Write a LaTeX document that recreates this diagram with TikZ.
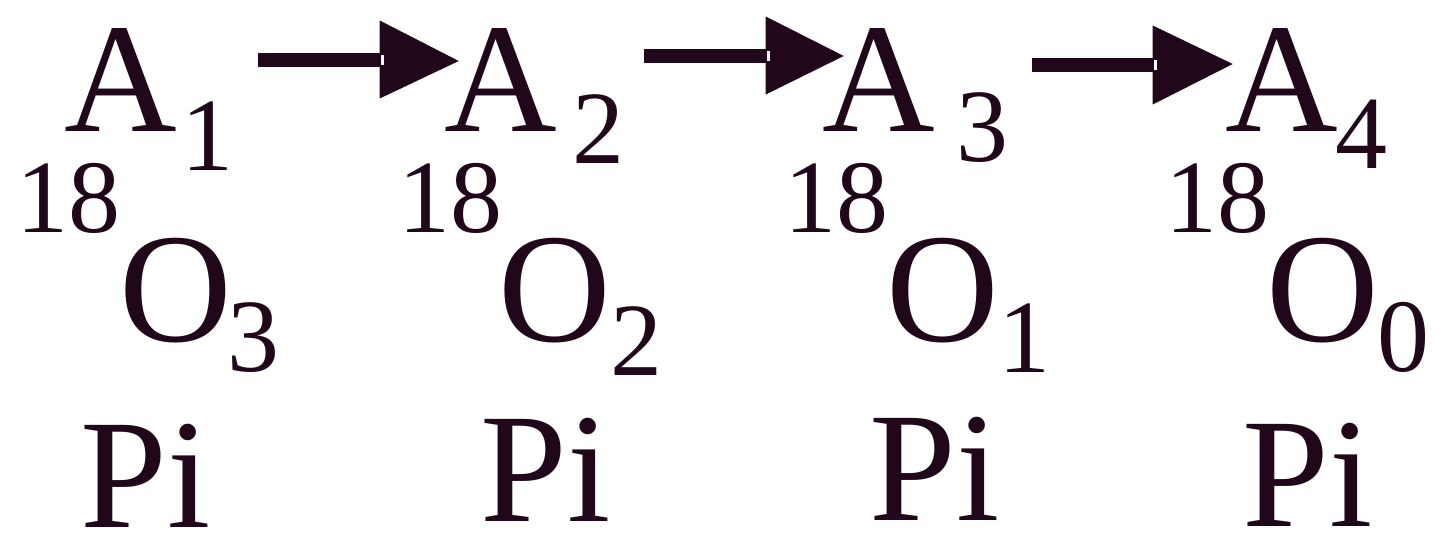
\documentclass[tikz,border=0pt]{standalone}
\usepackage{fontspec}
\setmainfont{Liberation Serif}
\definecolor{ink}{RGB}{32,8,26}
\tikzset{
  lbl/.style={inner sep=0pt,outer sep=0pt,anchor=base west,text=ink},
  big/.style={lbl,font=\fontsize{156}{156}\selectfont},
  small/.style={lbl,font=\fontsize{104}{104}\selectfont},
  shaft/.style={fill=ink,draw=ink,line width=0.6pt},
  head/.style={fill=ink,draw=ink,line width=0.6pt,line join=miter},
  notch/.style={fill=white,draw=ink,line width=0.8pt}
}
\begin{document}
\begin{tikzpicture}[x=1pt,y=-1pt]
\useasboundingbox (0,0) rectangle (1447,551);
% column 1
\node[big]   (a1)  at (64,131)    {A};
\node[small] (a1s) at (181.6,170) {1};
\node[small] (i1)  at (16.6,232)  {18};
\node[big]   (o1)  at (119.7,341) {O};
\node[small] (o1s) at (227,371)   {3};
\node[big,text depth=0pt]   (p1)  at (80.4,527)  {Pi};
% column 2
\node[big]   (a2)  at (444,131)   {A};
\node[small] (a2s) at (572,163)   {2};
\node[small] (i2)  at (398.6,232) {18};
\node[big]   (o2)  at (498.7,341) {O};
\node[small] (o2s) at (610,375)   {2};
\node[big,text depth=0pt]   (p2)  at (480.4,521) {Pi};
% column 3
\node[big]   (a3)  at (822,131)   {A};
\node[small] (a3s) at (956,161)   {3};
\node[small] (i3)  at (784.6,232) {18};
\node[big]   (o3)  at (886.7,341) {O};
\node[small] (o3s) at (998.6,372) {1};
\node[big,text depth=0pt]   (p3)  at (869.4,520) {Pi};
% column 4
\node[big]   (a4)  at (1225,131)  {A};
\node[small] (a4s) at (1335,168)  {4};
\node[small] (i4)  at (1165.6,232){18};
\node[big]   (o4)  at (1266.7,341){O};
\node[small] (o4s) at (1377,371)  {0};
\node[big,text depth=0pt]   (p4)  at (1242.4,526){Pi};
% arrow 1
\coordinate (r1s) at (258,60);
\coordinate (r1b) at (380,60);
\coordinate (r1t) at (458,61);
\fill[shaft] ([yshift=-6.5pt]r1s) rectangle ([yshift=6.5pt]r1b);
\filldraw[head] ([yshift=-38pt]r1b) -- (r1t) -- ([yshift=39pt]r1b) -- cycle;
\filldraw[notch] ([yshift=-5.5pt]r1b) rectangle ([xshift=4pt,yshift=5.5pt]r1b);
% arrow 2
\coordinate (r2s) at (644,55.5);
\coordinate (r2b) at (766,55.5);
\coordinate (r2t) at (843,56);
\fill[shaft] ([yshift=-6.5pt]r2s) rectangle ([yshift=6.5pt]r2b);
\filldraw[head] ([yshift=-38.5pt]r2b) -- (r2t) -- ([yshift=38.5pt]r2b) -- cycle;
\filldraw[notch] ([yshift=-5.5pt]r2b) rectangle ([xshift=4pt,yshift=5.5pt]r2b);
% arrow 3
\coordinate (r3s) at (1032,64.5);
\coordinate (r3b) at (1153,64.5);
\coordinate (r3t) at (1232,64);
\fill[shaft] ([yshift=-6.5pt]r3s) rectangle ([yshift=6.5pt]r3b);
\filldraw[head] ([yshift=-39.5pt]r3b) -- (r3t) -- ([yshift=38.5pt]r3b) -- cycle;
\filldraw[notch] ([yshift=-5.5pt]r3b) rectangle ([xshift=4pt,yshift=5.5pt]r3b);
\end{tikzpicture}
\end{document}
